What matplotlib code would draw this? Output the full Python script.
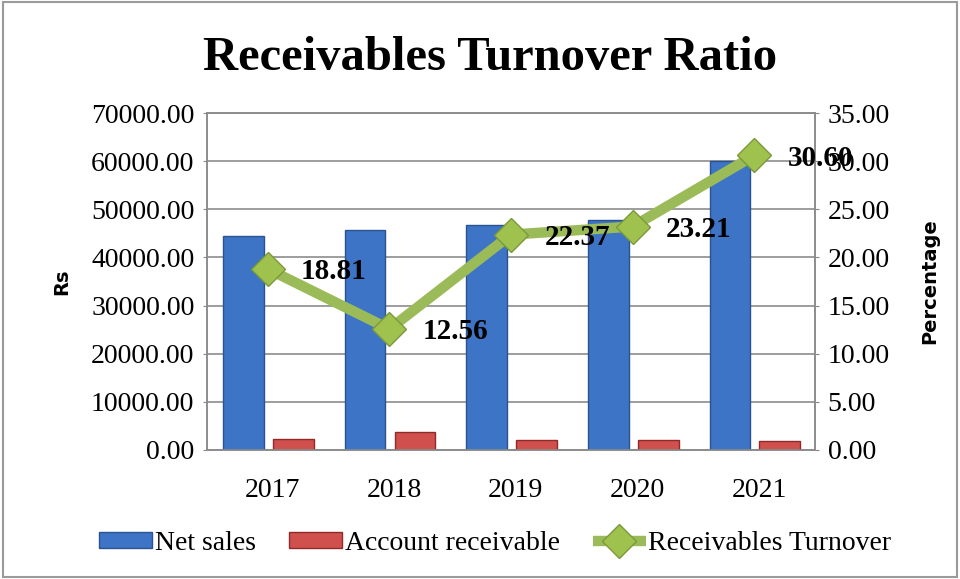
import numpy as np
import matplotlib.pyplot as plt

years = ['2017', '2018', '2019', '2020', '2021']
net_sales = [44400, 45800, 46700, 47700, 60000]
account_receivable = [2360, 3650, 2090, 2060, 1960]
turnover = [18.81, 12.56, 22.37, 23.21, 30.60]

plt.rcParams['font.family'] = ['Liberation Serif', 'DejaVu Serif']

fig = plt.figure(figsize=(9.6, 5.79), dpi=100)
ax = fig.add_axes([0.2156, 0.2228, 0.6334, 0.5820])
ax2 = ax.twinx()

x = np.arange(len(years))
w = 0.335
ax.bar(x - 0.2, net_sales, w, color='#3d74c6', edgecolor='#2a538f', linewidth=1.0,
       label='Net sales', zorder=3)
ax.bar(x + 0.21, account_receivable, w, color='#d0504d', edgecolor='#8e2b29', linewidth=1.0,
       label='Account receivable', zorder=3)

fs = 20
ax.set_xlim(-0.5, 4.5)
ax.set_ylim(0, 70000)
ax.set_yticks(np.arange(0, 70001, 10000))
ax.set_yticklabels([f'{v:.2f}' for v in np.arange(0, 70001, 10000)], fontsize=fs)
ax.set_xticks(x + 0.04)
ax.set_xticklabels(years, fontsize=fs)
ax.tick_params(axis='x', length=0, pad=20)
ax.tick_params(axis='y', length=3, color='#888888', pad=6)
ax.grid(axis='y', color='#8c8c8c', linewidth=1.2, zorder=0)
ax.set_axisbelow(True)

ax2.plot(x, turnover, color='#9bbb59', linewidth=7.5, marker='D', markersize=17,
         markerfacecolor='#9fc24f', markeredgecolor='#7a9a3a', markeredgewidth=1,
         label='Receivables Turnover', zorder=5, solid_capstyle='butt')
ax2.set_ylim(0, 35)
ax2.set_yticks(np.arange(0, 35.1, 5))
ax2.set_yticklabels([f'{v:.2f}' for v in np.arange(0, 35.1, 5)], fontsize=fs)
ax2.tick_params(axis='y', length=3, color='#888888', pad=6)

for xi, v in zip(x, turnover):
    ax2.annotate(f'{v:.2f}', (xi, v), xytext=(24, -2), textcoords='offset points',
                 ha='left', va='center', fontsize=21, fontweight='bold', zorder=6)

for a in (ax, ax2):
    for s in a.spines.values():
        s.set_color('#8c8c8c')
        s.set_linewidth(1.2)

ax.set_ylabel('Rs', fontsize=14, fontweight='bold', family='DejaVu Sans', labelpad=14)
ax2.set_ylabel('Percentage', fontsize=14, fontweight='bold', family='DejaVu Sans', labelpad=22)

fig.text(0.511, 0.9, 'Receivables Turnover Ratio', fontsize=35, fontweight='bold',
         ha='center', va='center')

h1, l1 = ax.get_legend_handles_labels()
h2, l2 = ax2.get_legend_handles_labels()
fig.legend(h1 + h2, l1 + l2, loc='center', bbox_to_anchor=(0.516, 0.062), ncol=3,
           frameon=False, fontsize=fs, handlelength=1.9, handleheight=0.5,
           handletextpad=0.1, columnspacing=1.2)

fig.patches.append(plt.Rectangle((0.003, 0.003), 0.994, 0.994, transform=fig.transFigure,
                                 fill=False, edgecolor='#9a9a9a', linewidth=1.5))

fig.savefig('out.png', dpi=100)
